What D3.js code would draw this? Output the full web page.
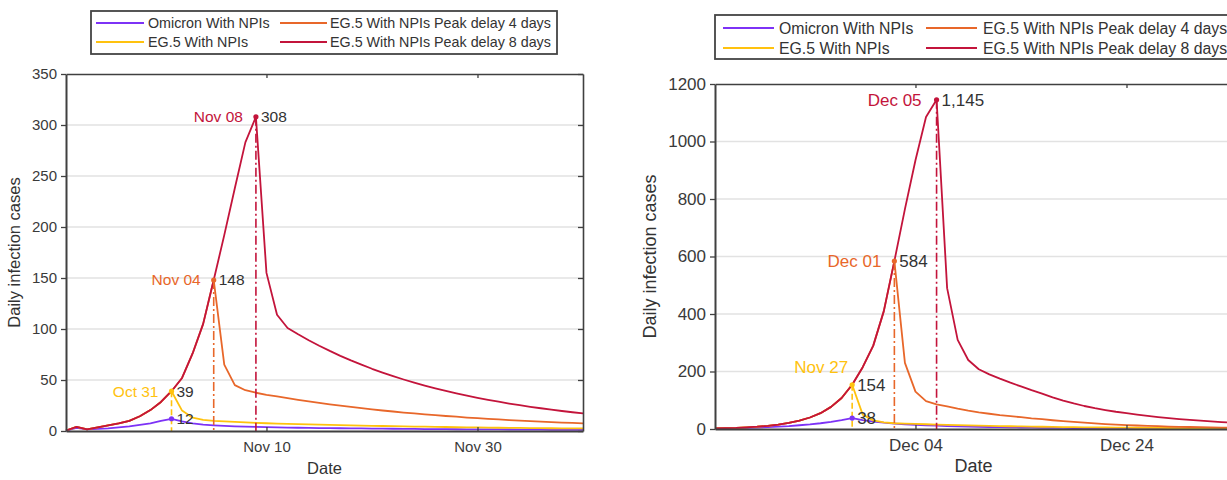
<!DOCTYPE html>
<html>
<head>
<meta charset="utf-8">
<script src="https://cdn.jsdelivr.net/npm/d3@7"></script>
<style>
  body { margin: 0; background: #fff; }
  text { font-family: "Liberation Sans", Arial, sans-serif; }
</style>
</head>
<body>
<svg id="chart" width="1227" height="480"></svg>
<script>
// series names, in legend order
const seriesNames = [
  "Omicron With NPIs",
  "EG.5 With NPIs",
  "EG.5 With NPIs Peak delay 4 days",
  "EG.5 With NPIs Peak delay 8 days"
];
const seriesColors = ["#7d32f6", "#ffc20e", "#e8672a", "#c3143b"];
const dropDash = [null, "6,3", "9,3,2,3", "9,3,2,3"];

// ---- left panel (daily values from Oct 22) ----
const leftStart = new Date(2023, 9, 22);
const leftOmicron = [0.3, 3, 1.5, 2, 2.5, 3.5, 4.5, 6, 7.5, 10, 12, 9.5, 7.5, 6.2, 5.5, 5, 4.6, 4.3, 4, 3.8,
  3.6, 3.4, 3.2, 3.1, 2.9, 2.8, 2.7, 2.6, 2.5, 2.4, 2.3, 2.2, 2.1, 2, 1.9, 1.85, 1.8, 1.7, 1.65, 1.6,
  1.55, 1.5, 1.45, 1.4, 1.35, 1.3, 1.25, 1.2, 1.2, 1.15];
// EG.5 rise shared by the three EG.5 curves until each one peaks
const leftEgRise = [0.5, 4, 1.5, 3.5, 5.5, 7.5, 10, 14.5, 20.5, 28.5, 39, 52, 76, 105, 148, 192, 238, 283, 308];
const leftEgTail = [20, 13, 11, 10, 9.5, 9, 8.5, 8, 7.6, 7.3, 7, 6.7, 6.5, 6.2, 6, 5.8, 5.5, 5.3, 5.1, 4.9,
  4.7, 4.5, 4.3, 4.2, 4, 3.9, 3.7, 3.6, 3.5, 3.3, 3.2, 3.1, 3, 2.9, 2.8, 2.7, 2.6, 2.5, 2.5];
const leftDelay4Tail = [65, 45, 40, 37.5, 35.5, 34, 32.3, 30.6, 29, 27.6, 26.2, 24.8, 23.6, 22.4, 21.2, 20.1,
  19.1, 18.1, 17.2, 16.3, 15.5, 14.7, 14, 13.2, 12.6, 11.9, 11.3, 10.7, 10.2, 9.7, 9.2, 8.7, 8.3, 7.9, 7.5];
const leftDelay8Tail = [155, 114, 101, 94.8, 89, 83.6, 78.5, 73.7, 69.2, 65, 61, 57.3, 53.8, 50.5, 47.4, 44.5,
  41.8, 39.3, 36.9, 34.6, 32.5, 30.5, 28.7, 26.9, 25.3, 23.7, 22.3, 20.9, 19.6, 18.4, 17.3];
const leftPeakDates = ["", "Oct 31", "Nov 04", "Nov 08"];
const leftYTicks = [0, 50, 100, 150, 200, 250, 300, 350];
const leftXTicks = [new Date(2023, 10, 10), new Date(2023, 10, 30)];

// ---- right panel (daily values from Nov 15) ----
const rightStart = new Date(2023, 10, 15);
const rightOmicron = [2, 2.5, 3, 4, 5, 6.5, 8, 10, 13, 16, 20, 25, 31, 38, 31, 26, 22, 19, 16.5, 14.5,
  13, 11.5, 10.3, 9.3, 8.4, 7.6, 6.9, 6.3, 5.7, 5.2, 4.8, 4.4, 4, 3.7, 3.4, 3.1, 2.9, 2.7, 2.5, 2.3,
  2.1, 2, 1.8, 1.7, 1.6, 1.5, 1.4, 1.3, 1.2, 1.1];
const rightEgRise = [2, 3, 4, 6, 8, 11, 15, 21, 29, 40, 55, 77, 108, 154, 215, 290, 410, 584, 765, 935, 1085, 1145];
const rightEgTail = [50, 30, 23, 20, 18.5, 17.5, 16.5, 15.5, 14.5, 13.5, 12.6, 11.8, 11, 10.3, 9.6, 9, 8.4,
  7.8, 7.3, 6.8, 6.4, 6, 5.6, 5.2, 4.9, 4.6, 4.3, 4, 3.7, 3.5, 3.3, 3.1, 2.9, 2.7, 2.5, 2.4];
const rightDelay4Tail = [230, 130, 97, 86, 79, 71, 64, 58, 53, 48, 44.5, 41, 37, 34, 30.5, 27.5, 24.5, 22, 19.5, 17.3,
  15.4, 13.7, 12.2, 10.9, 9.7, 8.6, 7.7, 6.9, 6.2, 5.5, 4.9, 4.4];
const rightDelay8Tail = [490, 310, 240, 208, 190, 175, 161, 148, 135, 123, 110, 99, 89, 80, 72.5, 66, 60, 55,
  50, 45.5, 41.5, 38, 34.5, 31.5, 29, 26.5, 24, 22];
const rightPeakDates = ["", "Nov 27", "Dec 01", "Dec 05"];
const rightYTicks = [0, 200, 400, 600, 800, 1000, 1200];
const rightXTicks = [new Date(2023, 11, 4), new Date(2023, 11, 24)];

const svg = d3.select("#chart");
const fmt = d3.format(",");

// build the four curves of a panel from the shared rise and the tails
function buildSeries(omicron, rise, peaks, tails) {
  return [omicron].concat(peaks.map((p, k) => rise.slice(0, p + 1).concat(tails[k])));
}

const panels = [
  {
    start: leftStart, days: 49, left: 66, right: 583, top: 74, bottom: 431,
    yMax: 350, yTicks: leftYTicks, xTicks: leftXTicks,
    series: buildSeries(leftOmicron, leftEgRise, [10, 14, 18], [leftEgTail, leftDelay4Tail, leftDelay8Tail]),
    peakDates: leftPeakDates,
    tickFont: 15, labelFont: 16.5, annFont: 15.5, yLabelX: 20,
    dateShift: [[0, 0], [-13, 0], [-13, 0], [-13, 0]],
    legend: {x: 91, y: 11, w: 466, h: 43, rows: [23, 42], cols: [[96, 144, 148], [280, 327, 330]], font: 14.3}
  },
  {
    start: rightStart, days: 49, left: 715, right: 1232, top: 84, bottom: 429,
    yMax: 1200, yTicks: rightYTicks, xTicks: rightXTicks,
    series: buildSeries(rightOmicron, rightEgRise, [13, 17, 21], [rightEgTail, rightDelay4Tail, rightDelay8Tail]),
    peakDates: rightPeakDates,
    tickFont: 17, labelFont: 18, annFont: 17, yLabelX: 656,
    dateShift: [[0, 0], [-4, -18], [-13, 0], [-15, 0]],
    legend: {x: 715, y: 15, w: 600, h: 44, rows: [28, 48], cols: [[723, 774, 779], [926, 977, 983]], font: 15.8}
  }
];

function styleAxis(sel, font) {
  sel.select(".domain").attr("stroke", "#404040").attr("stroke-width", 2);
  sel.selectAll(".tick line").attr("stroke", "#404040").attr("stroke-width", 1.3);
  sel.selectAll(".tick text").attr("fill", "#3a3a3a").style("font-size", font + "px");
}

function drawPanel(p) {
  const g = svg.append("g");
  const date = i => d3.timeDay.offset(p.start, i);
  const x = d3.scaleTime().domain([p.start, date(p.days)]).range([p.left, p.right]);
  const y = d3.scaleLinear().domain([0, p.yMax]).range([p.bottom, p.top]);

  // horizontal grid
  g.append("g").selectAll("line").data(p.yTicks.slice(1, -1)).join("line")
    .attr("x1", p.left).attr("x2", p.right)
    .attr("y1", d => y(d)).attr("y2", d => y(d))
    .attr("stroke", "#e2e2e2").attr("stroke-width", 1.6);

  // curves
  const line = d3.line().x((d, i) => x(date(i))).y(d => y(d));
  g.append("g").selectAll("path").data(p.series).join("path")
    .attr("d", line).attr("fill", "none")
    .attr("stroke", (d, i) => seriesColors[i])
    .attr("stroke-width", 1.8).attr("stroke-linejoin", "round");

  // peak drop lines, markers and labels
  const peaks = p.series.map((s, i) => ({k: i, idx: d3.maxIndex(s), v: d3.max(s)}));
  g.append("g").selectAll("line").data(peaks.filter(d => dropDash[d.k])).join("line")
    .attr("x1", d => x(date(d.idx))).attr("x2", d => x(date(d.idx)))
    .attr("y1", d => y(d.v)).attr("y2", y(0))
    .attr("stroke", d => seriesColors[d.k]).attr("stroke-width", 1.6)
    .attr("stroke-dasharray", d => dropDash[d.k]);
  g.append("g").selectAll("circle").data(peaks).join("circle")
    .attr("cx", d => x(date(d.idx))).attr("cy", d => y(d.v)).attr("r", 2.6)
    .attr("fill", d => seriesColors[d.k]);
  g.append("g").selectAll("text").data(peaks).join("text")
    .attr("x", d => x(date(d.idx)) + 5).attr("y", d => y(d.v)).attr("dy", "0.35em")
    .attr("fill", "#333").style("font-size", p.annFont + "px")
    .text(d => fmt(d.v));
  g.append("g").selectAll("text").data(peaks.filter(d => p.peakDates[d.k])).join("text")
    .attr("x", d => x(date(d.idx)) + p.dateShift[d.k][0])
    .attr("y", d => y(d.v) + p.dateShift[d.k][1]).attr("dy", "0.35em")
    .attr("text-anchor", "end")
    .attr("fill", d => seriesColors[d.k]).style("font-size", p.annFont + "px")
    .text(d => p.peakDates[d.k]);

  // box axes
  g.append("g").attr("transform", `translate(${p.left},0)`)
    .call(d3.axisLeft(y).tickValues(p.yTicks).tickFormat(d3.format("d"))
      .tickSize(5).tickSizeOuter(0).tickPadding(4))
    .call(s => styleAxis(s, p.tickFont));
  g.append("g").attr("transform", `translate(0,${p.bottom})`)
    .call(d3.axisBottom(x).tickValues(p.xTicks).tickFormat(d3.timeFormat("%b %d"))
      .tickSize(-4).tickSizeOuter(0).tickPadding(10))
    .call(s => styleAxis(s, p.tickFont));
  g.append("g").attr("transform", `translate(0,${p.top})`)
    .call(d3.axisTop(x).tickValues(p.xTicks).tickFormat("").tickSize(-4).tickSizeOuter(0))
    .call(s => styleAxis(s, p.tickFont))
    .select(".domain").attr("stroke-width", 1.6);
  g.append("g").attr("transform", `translate(${p.right},0)`)
    .call(d3.axisRight(y).tickValues(p.yTicks).tickFormat("").tickSize(-5).tickSizeOuter(0))
    .call(s => styleAxis(s, p.tickFont))
    .select(".domain").attr("stroke-width", 1.6);

  // axis titles
  g.append("text")
    .attr("x", (p.left + p.right) / 2).attr("y", p.bottom + 43)
    .attr("text-anchor", "middle").attr("fill", "#333")
    .style("font-size", p.labelFont + "px").text("Date");
  g.append("text")
    .attr("transform", `translate(${p.yLabelX},${(p.top + p.bottom) / 2}) rotate(-90)`)
    .attr("text-anchor", "middle").attr("fill", "#333")
    .style("font-size", p.labelFont + "px").text("Daily infection cases");

  // legend, two columns
  const L = p.legend;
  const lg = svg.append("g");
  lg.append("rect").attr("x", L.x).attr("y", L.y).attr("width", L.w).attr("height", L.h)
    .attr("fill", "#fff").attr("stroke", "#444").attr("stroke-width", 1.8);
  const item = lg.selectAll("g.item").data(seriesNames).join("g").attr("class", "item");
  item.append("line")
    .attr("x1", (d, i) => L.cols[Math.floor(i / 2)][0]).attr("x2", (d, i) => L.cols[Math.floor(i / 2)][1])
    .attr("y1", (d, i) => L.rows[i % 2]).attr("y2", (d, i) => L.rows[i % 2])
    .attr("stroke", (d, i) => seriesColors[i]).attr("stroke-width", 1.8);
  item.append("text")
    .attr("x", (d, i) => L.cols[Math.floor(i / 2)][2]).attr("y", (d, i) => L.rows[i % 2])
    .attr("dy", "0.35em").attr("fill", "#333").style("font-size", L.font + "px")
    .text(d => d);
}

panels.forEach(drawPanel);
</script>
</body>
</html>
